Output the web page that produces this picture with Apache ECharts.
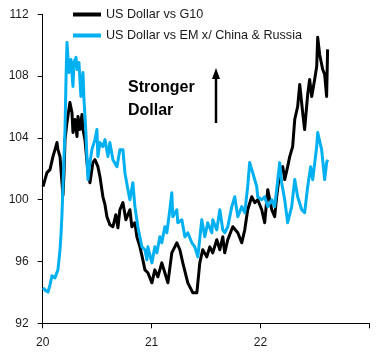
<!DOCTYPE html>
<html>
<head>
<meta charset="utf-8">
<script src="https://cdn.jsdelivr.net/npm/echarts@6/dist/echarts.min.js"></script>
<style>
html,body{margin:0;padding:0;background:#fff;}
#chart{width:384px;height:360px;}
</style>
</head>
<body>
<div id="chart"></div>
<script>
// Decimal years (20 = Jan 2020) and index levels
var g10Dates = [20.003,20.021,20.039,20.067,20.094,20.113,20.131,20.140,20.159,20.177,20.186,20.196,20.205,20.223,20.250,20.269,20.278,20.296,20.315,20.324,20.342,20.361,20.370,20.388,20.416,20.434,20.461,20.480,20.507,20.526,20.553,20.572,20.590,20.617,20.645,20.672,20.691,20.709,20.737,20.764,20.801,20.819,20.847,20.865,20.893,20.920,20.939,20.966,21.003,21.030,21.058,21.094,21.122,21.150,21.186,21.232,21.260,21.287,21.333,21.379,21.416,21.425,21.443,21.470,21.507,21.535,21.562,21.599,21.627,21.654,21.672,21.700,21.746,21.792,21.828,21.856,21.883,21.920,21.948,21.975,22.012,22.039,22.067,22.104,22.131,22.149,22.177,22.205,22.223,22.250,22.269,22.296,22.315,22.342,22.361,22.388,22.406,22.434,22.452,22.471,22.498,22.517,22.526,22.544,22.572,22.590,22.608,22.617];
var g10Values = [100.84,101.30,101.75,101.95,102.79,103.24,103.70,103.24,102.79,101.10,100.30,101.80,103.89,104.99,106.29,105.64,104.35,105.19,104.09,105.38,104.54,105.51,104.54,103.89,101.75,101.10,102.40,102.59,102.14,101.49,100.19,99.68,98.90,98.38,98.25,99.03,98.18,99.35,99.81,98.70,99.35,98.25,98.51,97.60,96.95,96.11,95.46,95.27,94.62,95.46,95.01,95.91,95.27,94.62,96.56,97.21,96.76,95.91,94.62,93.97,93.97,94.62,95.91,96.76,96.30,96.95,96.56,97.41,96.76,97.60,96.56,97.41,98.25,97.86,97.21,98.05,99.35,100.19,99.81,100.00,99.35,98.51,100.65,99.35,98.90,100.19,101.75,102.14,101.30,102.14,102.79,103.44,105.19,106.03,107.46,105.64,104.54,106.81,107.78,106.68,107.78,108.63,110.51,109.40,108.43,108.11,106.68,109.73];

var emDates = [20.003,20.030,20.049,20.067,20.085,20.113,20.140,20.159,20.168,20.177,20.186,20.205,20.214,20.223,20.241,20.260,20.278,20.287,20.306,20.315,20.333,20.351,20.370,20.379,20.397,20.406,20.416,20.434,20.452,20.480,20.498,20.507,20.526,20.553,20.572,20.599,20.617,20.645,20.682,20.709,20.737,20.755,20.783,20.801,20.828,20.847,20.874,20.911,20.939,20.957,20.966,21.003,21.030,21.049,21.076,21.094,21.122,21.140,21.168,21.186,21.195,21.232,21.241,21.278,21.306,21.333,21.370,21.397,21.425,21.461,21.489,21.516,21.553,21.562,21.599,21.627,21.654,21.672,21.700,21.737,21.764,21.792,21.828,21.856,21.883,21.901,21.929,21.966,21.975,22.012,22.039,22.067,22.104,22.131,22.177,22.195,22.223,22.250,22.287,22.315,22.342,22.379,22.406,22.434,22.461,22.480,22.517,22.526,22.562,22.590,22.608,22.617];
var emValues = [94.29,94.10,94.03,94.49,95.07,94.94,95.46,96.76,97.73,99.03,100.84,104.54,107.78,110.18,108.24,109.08,107.33,108.88,109.21,108.43,108.88,106.68,108.24,106.49,104.35,102.79,101.30,102.40,103.24,103.89,104.54,102.79,103.70,103.44,103.89,102.79,103.70,102.59,102.14,103.24,103.24,101.75,100.65,100.00,101.10,99.55,98.25,96.95,96.76,96.11,96.95,95.91,96.95,96.56,97.60,97.21,98.25,97.86,99.35,100.45,98.90,99.35,98.51,98.70,97.60,97.86,97.21,96.95,96.30,98.70,97.60,98.51,97.86,98.70,98.05,99.35,98.05,97.86,98.25,99.55,100.19,98.90,99.55,99.16,100.84,102.40,101.75,100.84,100.19,100.00,100.19,99.55,100.00,99.55,102.40,101.10,100.00,98.51,99.55,101.30,100.19,99.35,99.16,100.84,102.14,101.30,103.44,104.35,103.24,101.30,102.40,102.59];

var seriesNames = ['US Dollar vs G10', 'US Dollar vs EM x/ China & Russia'];
var yTicks = {min: 92, max: 112, step: 4};
var xTicks = {min: 20, max: 23, step: 1};
var annotationText = 'Stronger\nDollar';

function pairs(d, v) { return d.map(function (t, i) { return [t, v[i]]; }); }

var FONT = '"Liberation Sans", Arial, sans-serif';
var chart = echarts.init(document.getElementById('chart'), null, {renderer: 'canvas'});
chart.setOption({
  animation: false,
  backgroundColor: '#ffffff',
  textStyle: {fontFamily: FONT},
  grid: {left: 42.7, right: 14.7, top: 14.3, bottom: 36.7, containLabel: false},
  legend: {
    orient: 'vertical',
    left: 68, top: 2,
    itemWidth: 28, itemHeight: 4,
    itemGap: 6,
    icon: 'rect',
    textStyle: {fontSize: 12.6, color: '#1a1a1a', fontFamily: FONT, lineHeight: 15},
    data: seriesNames
  },
  xAxis: {
    type: 'value',
    min: xTicks.min, max: xTicks.max, interval: xTicks.step,
    axisLine: {show: true, onZero: false, lineStyle: {color: '#000', width: 1}},
    axisTick: {show: true, length: 5, lineStyle: {color: '#000'}},
    splitLine: {show: false},
    axisLabel: {
      color: '#1a1a1a', fontSize: 12, fontFamily: FONT, margin: 13,
      formatter: function (v) { return v >= xTicks.max ? '' : String(v); }
    }
  },
  yAxis: {
    type: 'value',
    min: yTicks.min, max: yTicks.max, interval: yTicks.step,
    axisLine: {show: true, lineStyle: {color: '#000', width: 1}},
    axisTick: {show: true, length: 5, lineStyle: {color: '#000'}},
    splitLine: {show: false},
    axisLabel: {color: '#1a1a1a', fontSize: 12, fontFamily: FONT, margin: 14}
  },
  series: [
    {
      name: seriesNames[0], type: 'line', showSymbol: false, symbol: 'none',
      color: '#000000',
      lineStyle: {color: '#000000', width: 3, join: 'round'},
      data: pairs(g10Dates, g10Values)
    },
    {
      name: seriesNames[1], type: 'line', showSymbol: false, symbol: 'none',
      color: '#00B0F0',
      lineStyle: {color: '#00B0F0', width: 3, join: 'round'},
      data: pairs(emDates, emValues)
    }
  ],
  graphic: [
    {
      type: 'text', left: 128, top: 76,
      style: {text: annotationText, font: 'bold 16px ' + FONT, fill: '#000', lineHeight: 23}
    },
    {
      type: 'line', shape: {x1: 216, y1: 123, x2: 216, y2: 76},
      style: {stroke: '#000', lineWidth: 2.5}
    },
    {
      type: 'polygon', shape: {points: [[212, 79], [220, 79], [216, 68]]},
      style: {fill: '#000'}
    }
  ]
});
</script>
</body>
</html>
